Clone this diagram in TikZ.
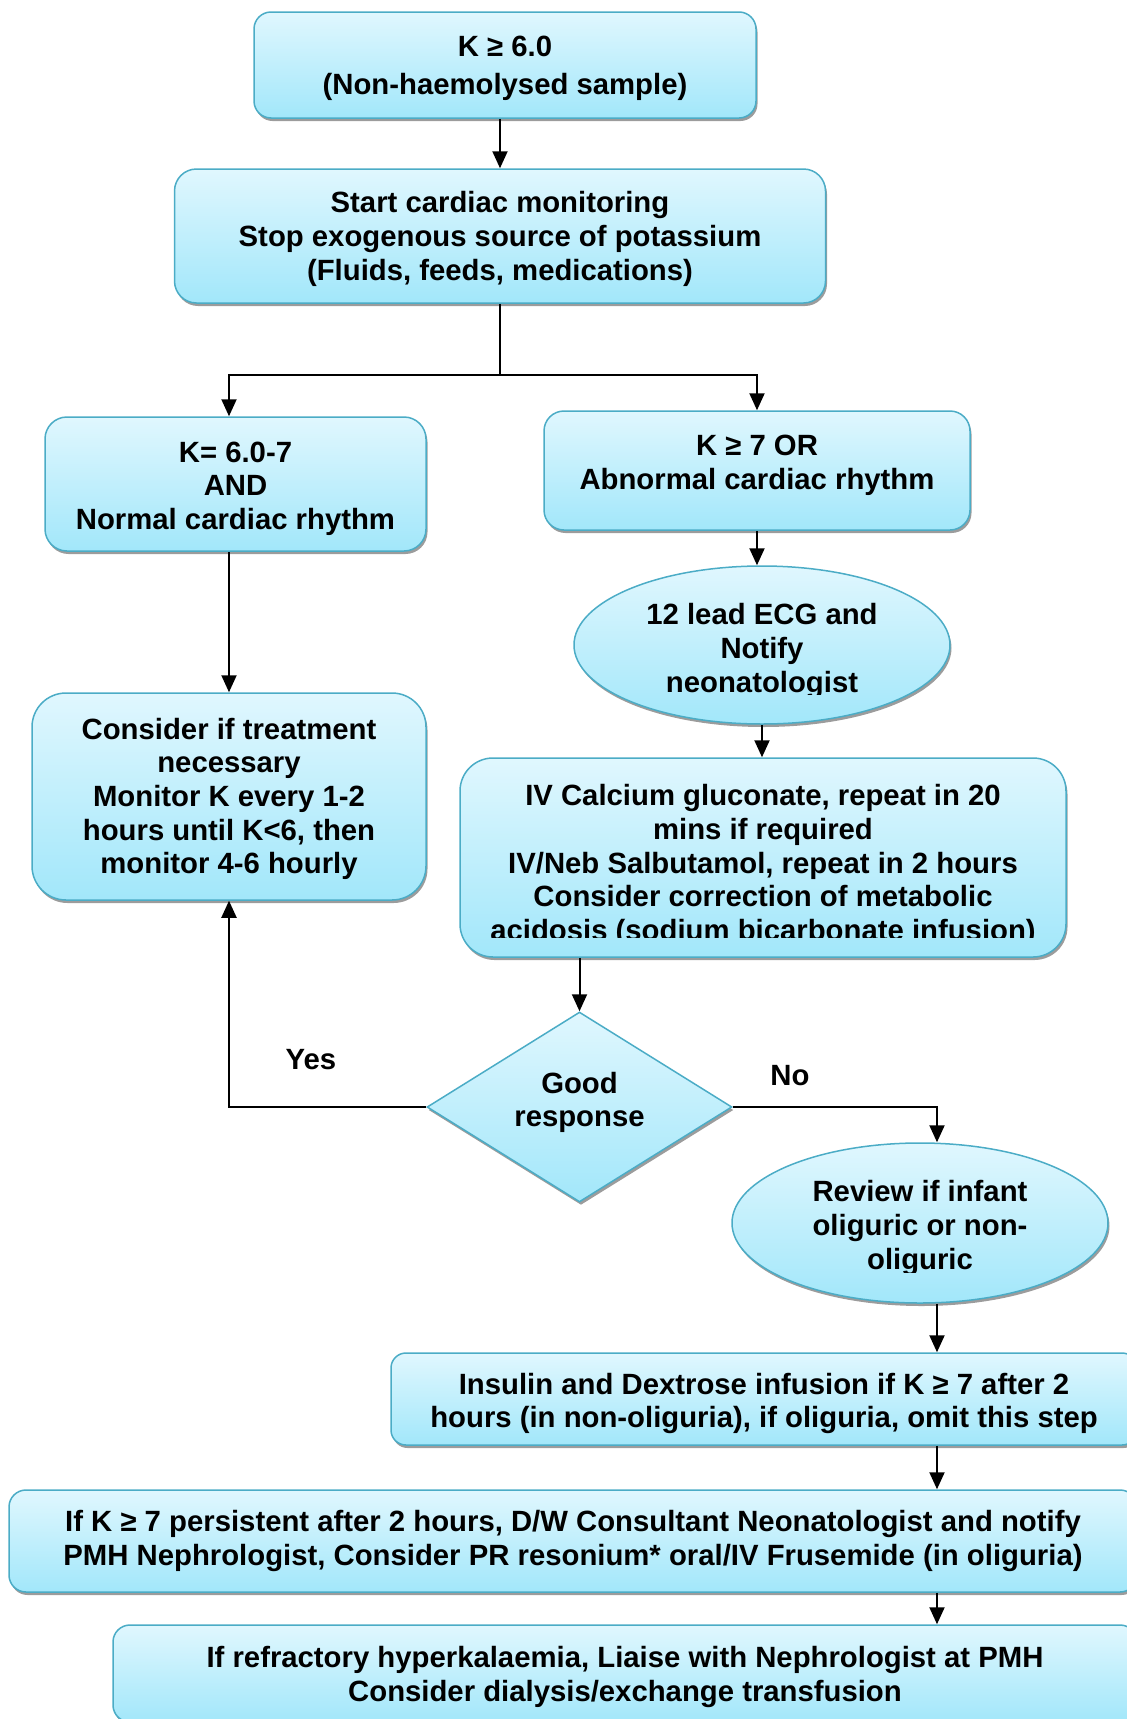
\documentclass[tikz,border=0pt]{standalone}
\usepackage{fontspec}
\setmainfont{Liberation Sans}
\usetikzlibrary{shapes.geometric,shadows,arrows.meta,calc}

\definecolor{boxtop}{HTML}{E0F7FE}
\definecolor{boxbot}{HTML}{A2E7FA}
\definecolor{boxline}{HTML}{4BACC6}
\definecolor{shadowgray}{HTML}{9C9C9C}

% struts to nudge the text inside a box
\newcommand{\topstrut}[1]{\rule{0pt}{#1}}
\newcommand{\botstrut}[1]{\rule[-#1]{0pt}{#1}}

\tikzset{
  box/.style={rectangle, draw=boxline, line width=1.5pt, top color=boxtop, bottom color=boxbot,
    drop shadow={shadow xshift=1.5pt, shadow yshift=-3pt, fill=shadowgray, opacity=1},
    inner sep=0pt, align=center},
  oval/.style={box, ellipse},
  decision/.style={box, diamond, aspect=1.6},
}

\begin{document}
\begin{tikzpicture}[x=1pt, y=-1pt, line width=2pt, >={Triangle[length=17pt,width=15pt]},
    font=\bfseries\fontsize{29.3}{33.6}\selectfont]
  \useasboundingbox (0,0) rectangle (1127,1719);

  % Top of the chart
  \node[box, minimum width=502pt, minimum height=106pt, rounded corners=17pt] (start) at (505,65)
    {\topstrut{27pt}K ≥ 6.0\\[4pt](Non-haemolysed sample)};
  \node[box, minimum width=651pt, minimum height=134pt, rounded corners=22pt] (monitor) at (500,236)
    {\topstrut{27pt}Start cardiac monitoring\\Stop exogenous source of potassium\\(Fluids, feeds, medications)};

  % Left branch
  \node[box, minimum width=381pt, minimum height=134pt, rounded corners=22pt] (mild) at (235.5,484)
    {\topstrut{30pt}K= 6.0-7\\AND\\Normal cardiac rhythm};
  \node[box, minimum width=394pt, minimum height=207pt, rounded corners=34pt] (consider) at (229,796.5)
    {\topstrut{26pt}Consider if treatment\\necessary\\Monitor K every 1-2\\hours until K<6, then\\monitor 4-6 hourly};

  % Right branch
  \node[box, minimum width=426pt, minimum height=119pt, rounded corners=20pt] (severe) at (757,470.5)
    {K ≥ 7 OR\\Abnormal cardiac rhythm\botstrut{16pt}};
  \node[oval, minimum width=376pt, minimum height=158pt] (ecg) at (762,645) {};
  \begin{scope}
    \clip (0,0) rectangle (1127,694);
    \node[align=center] (ecgtext) at (762,651) {12 lead ECG and\\Notify\\neonatologist};
  \end{scope}
  \node[box, minimum width=606pt, minimum height=199pt, rounded corners=33pt] (treat) at (763,857.5) {};
  \begin{scope}
    \clip (0,0) rectangle (1127,937);
    \node[align=center] (treattext) at (763,865.5)
      {IV Calcium gluconate, repeat in 20\\mins if required\\IV/Neb Salbutamol, repeat in 2 hours\\Consider correction of metabolic\\acidosis (sodium bicarbonate infusion)};
  \end{scope}

  % Decision
  \node[decision, minimum width=305pt, minimum height=190pt] (response) at (579.5,1107)
    {Good\\response\botstrut{15pt}};
  \node (yes) at (311,1060) {Yes};
  \node (no) at (790,1076) {No};

  \node[oval, minimum width=376pt, minimum height=160pt] (review) at (920,1223) {};
  \begin{scope}
    \clip (0,0) rectangle (1127,1272);
    \node[align=center] (reviewtext) at (920,1228) {Review if infant\\oliguric or non-\\oliguric};
  \end{scope}

  % Bottom steps
  \node[box, minimum width=746pt, minimum height=92pt, rounded corners=15pt] (insulin) at (764,1399)
    {\topstrut{30pt}Insulin and Dextrose infusion if K ≥ 7 after 2\\hours (in non-oliguria), if oliguria, omit this step};
  \node[box, minimum width=1128pt, minimum height=102pt, rounded corners=17pt] (persist) at (573,1541)
    {If K ≥ 7 persistent after 2 hours, D/W Consultant Neonatologist and notify\\PMH Nephrologist, Consider PR resonium* oral/IV Frusemide (in oliguria)};
  \node[box, minimum width=1024pt, minimum height=97pt, rounded corners=17pt] (refract) at (625,1673.5)
    {\topstrut{28pt}If refractory hyperkalaemia, Liaise with Nephrologist at PMH\\Consider dialysis/exchange transfusion};

  % Arrows
  \coordinate (split) at (500,375);
  \coordinate (rail) at (937,0);
  \draw[->] (monitor.north |- start.south) -- (monitor.north);
  \draw (monitor.south) -- (split);
  \draw[->] (split) -| (mild.north -| consider.north);
  \draw[->] (split) -| (severe.north);
  \draw[->] (mild.south -| consider.north) -- (consider.north);
  \draw[->] (severe.south) -- (severe.south |- ecg.north);
  \draw[->] (ecg.south) -- (ecg.south |- treat.north);
  \draw[->] (response.north |- treat.south) -- (response.north);
  \draw[->] (response.west) -| (consider.south);
  \draw[->] (response.east) -| (review.north -| rail);
  \draw[->] (review.south -| rail) -- (insulin.north -| rail);
  \draw[->] (insulin.south -| rail) -- (persist.north -| rail);
  \draw[->] (persist.south -| rail) -- (refract.north -| rail);
\end{tikzpicture}
\end{document}
